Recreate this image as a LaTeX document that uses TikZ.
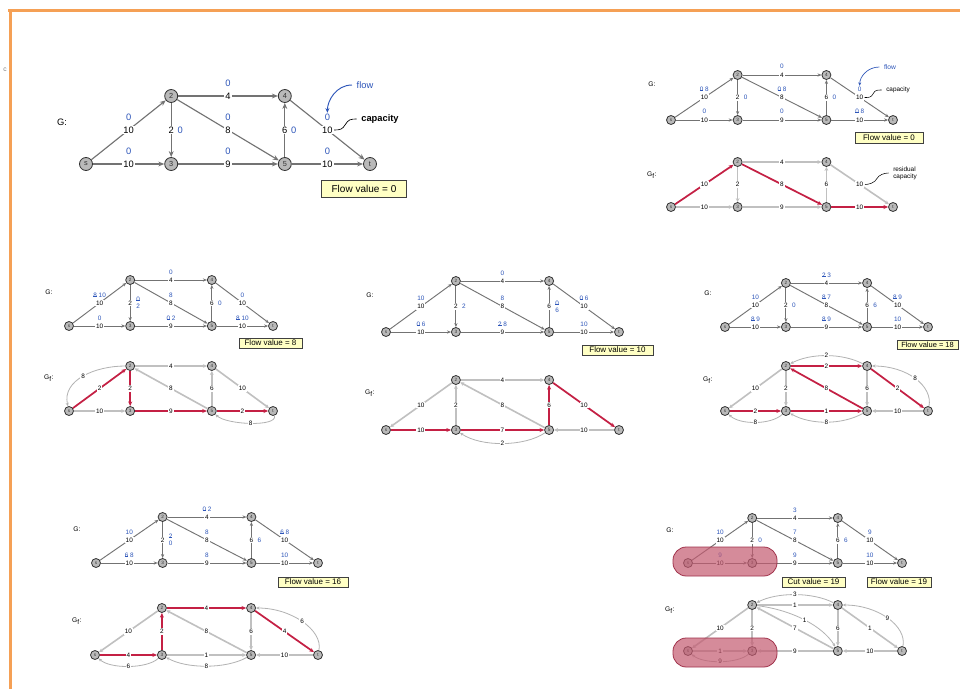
\documentclass[tikz,border=0pt]{standalone}
\usepackage{fontspec}
\setmainfont{Liberation Sans}
\usetikzlibrary{arrows.meta,calc}
\definecolor{flowblue}{RGB}{45,85,185}
\definecolor{edgeg}{RGB}{115,115,115}
\definecolor{resg}{RGB}{192,192,192}
\definecolor{resred}{RGB}{196,32,68}
\definecolor{boxfill}{RGB}{255,255,196}
\definecolor{orangeline}{RGB}{245,160,85}
\definecolor{blobc}{RGB}{196,90,112}
\definecolor{blobd}{RGB}{160,50,75}
\newsavebox\oldbox
\newcommand\oldv[1]{\sbox\oldbox{#1}\rlap{\raisebox{0.33ex}{\rule{\wd\oldbox}{0.1ex}}}\usebox\oldbox}
\newcommand\mkverts[7]{%
  \pgfmathsetmacro\xA{#2}%
  \pgfmathsetmacro\xB{#2+0.3*#4}%
  \pgfmathsetmacro\xC{#2+0.7*#4}%
  \pgfmathsetmacro\xD{#2+#4}%
  \pgfmathsetmacro\yT{#3-#5}%
  \node[vtx,minimum size=#6,font=\fontsize{#7}{#7}\selectfont] (#1-s) at (\xA,#3) {s};
  \node[vtx,minimum size=#6,font=\fontsize{#7}{#7}\selectfont] (#1-2) at (\xB,\yT) {2};
  \node[vtx,minimum size=#6,font=\fontsize{#7}{#7}\selectfont] (#1-3) at (\xB,#3) {3};
  \node[vtx,minimum size=#6,font=\fontsize{#7}{#7}\selectfont] (#1-4) at (\xC,\yT) {4};
  \node[vtx,minimum size=#6,font=\fontsize{#7}{#7}\selectfont] (#1-5) at (\xC,#3) {5};
  \node[vtx,minimum size=#6,font=\fontsize{#7}{#7}\selectfont] (#1-t) at (\xD,#3) {t};
}
\newcommand\gedges[1]{%
  \draw[gE] (#1-s) -- node[clab] (#1-cs2) {10} (#1-2);
  \draw[gE] (#1-s) -- node[clab] (#1-cs3) {10} (#1-3);
  \draw[gE] (#1-2) -- node[clab] (#1-c23) {2} (#1-3);
  \draw[gE] (#1-2) -- node[clab] (#1-c24) {4} (#1-4);
  \draw[gE] (#1-2) -- node[clab] (#1-c25) {8} (#1-5);
  \draw[gE] (#1-3) -- node[clab] (#1-c35) {9} (#1-5);
  \draw[gE] (#1-5) -- node[clab] (#1-c54) {6} (#1-4);
  \draw[gE] (#1-4) -- node[clab] (#1-c4t) {10} (#1-t);
  \draw[gE] (#1-5) -- node[clab] (#1-c5t) {10} (#1-t);
}
\newcommand\fl[4]{\node[flab] at ($(#1-#2)!0.5!(#1-#3)+(0,-\fdy)$) {#4};}
\newcommand\fln[5]{\node[flab] (#5) at ($(#1-#2)!0.5!(#1-#3)+(0,-\fdy)$) {#4};}
\newcommand\fv[4]{\node[flab,align=center] at ($(#1-#2)!0.5!(#1-#3)+(\fdx,0)$) {#4};}
\newcommand\rE[5][rG]{\draw[#1] (#2-#3) -- node[clab]{#5} (#2-#4);}
\newcommand\rC[7][rA]{\draw[#1] (#2-#3) .. controls +#5 and +#6 .. node[clab]{#7} (#2-#4);}
\begin{document}
\begin{tikzpicture}[x=0.75pt,y=-0.75pt,
  vtx/.style={circle,draw=gray!40!black,fill=gray!55,line width=0.6pt,inner sep=0pt,text=black!80},
  lf/.style={font=\fontsize{4.8}{5.3}\selectfont},
  clab/.style={fill=white,inner sep=0.7pt,lf},
  flab/.style={inner sep=0.5pt,lf,text=flowblue},
  gE/.style={draw=edgeg,line width=0.7pt,-{Stealth[length=3pt,width=2.4pt]}},
  rG/.style={draw=resg,line width=1.2pt,-{Stealth[length=3pt,width=2.8pt]}},
  rR/.style={draw=resred,line width=1.3pt,-{Stealth[length=3.5pt,width=3pt]}},
  rA/.style={draw=gray!60,line width=0.6pt,-{Stealth[length=2.6pt,width=2.2pt]}},
  fbox/.style={draw=gray!50!black,fill=boxfill,line width=0.5pt,inner sep=0pt,font=\fontsize{6}{7}\selectfont},
  glab/.style={font=\fontsize{5}{6}\selectfont},
  blob/.style={fill=blobc,fill opacity=0.7,draw=blobd,line width=0.6pt,rounded corners=10pt}
]
\useasboundingbox (0,0) rectangle (960,689);
\fill[white] (0,0) rectangle (960,689);
% frame
\draw[orangeline,line width=1.6pt] (8,10.5) -- (960,10.5);
\draw[orangeline,line width=1.6pt] (10.5,10.5) -- (10.5,689);
\node[font=\fontsize{5}{5}\selectfont,text=gray] (cmark) at (5,70) {c};

% ===== Big panel (flow 0)
\begin{scope}[lf/.style={font=\fontsize{7}{8}\selectfont},
  gE/.style={draw=edgeg,line width=0.85pt,-{Stealth[length=4.5pt,width=3.6pt]}}]
\def\fdy{13}\def\fdx{9}
\node[font=\fontsize{7}{8}\selectfont] (B-G) at (62,122) {G:};
\mkverts{B}{86}{164}{284}{68}{9.75pt}{5.5}
\gedges{B}
\fl{B}{s}{2}{0}\fl{B}{s}{3}{0}\fv{B}{2}{3}{0}\fl{B}{2}{4}{0}\fl{B}{2}{5}{0}
\fl{B}{3}{5}{0}\fv{B}{5}{4}{0}\fln{B}{4}{t}{0}{B-f4t}\fl{B}{5}{t}{0}
\node[font=\fontsize{7}{8}\selectfont,text=flowblue] (B-flowtxt) at (365,85) {flow};
\draw[flowblue,line width=0.7pt,-{Stealth[length=3.5pt,width=3pt]}] (B-flowtxt.west) .. controls +(-16,0) and +(0,-12) .. (B-f4t.north);
\node[font=\bfseries\fontsize{7}{8}\selectfont] (B-captxt) at (380,119) {capacity};
\draw[black,line width=0.5pt] (B-c4t.east) .. controls +(6,0) and +(-3,5) .. ($(B-c4t.east)!0.5!(B-captxt.west)$) .. controls +(3,-5) and +(-6,0) .. (B-captxt.west);
\node[fbox,minimum width=64pt,minimum height=12.75pt,font=\fontsize{7.5}{8}\selectfont] (B-box) at (364,188.5) {Flow value = 0};
\end{scope}

% ===== Top-right (flow 0)
\def\fdy{8.5}\def\fdx{8}
\node[glab] (tg-G) at (652,84) {G:};
\mkverts{tg}{671}{120}{222}{45}{6.75pt}{3.5}
\gedges{tg}
\fl{tg}{s}{2}{\oldv{0} 8}\fl{tg}{s}{3}{0}\fv{tg}{2}{3}{0}\fl{tg}{2}{4}{0}\fl{tg}{2}{5}{\oldv{0} 8}
\fl{tg}{3}{5}{0}\fv{tg}{5}{4}{0}\fln{tg}{4}{t}{0}{tg-f4t}\fl{tg}{5}{t}{\oldv{0} 8}
\node[font=\fontsize{5}{6}\selectfont,text=flowblue] (tg-flowtxt) at (890,67) {flow};
\draw[flowblue,line width=0.5pt,-{Stealth[length=2.6pt,width=2.2pt]}] (tg-flowtxt.west) .. controls +(-12,0) and +(0,-9) .. (tg-f4t.north);
\node[font=\fontsize{4.8}{5}\selectfont] (tg-captxt) at (898,90) {capacity};
\draw[black,line width=0.4pt] (tg-c4t.east) .. controls +(4,0) and +(-2,4) .. ($(tg-c4t.east)!0.5!(tg-captxt.west)$) .. controls +(2,-4) and +(-4,0) .. (tg-captxt.west);
\node[fbox,minimum width=51pt,minimum height=8.25pt] (tg-box) at (889,137.5) {Flow value = 0};

\node[glab] (tr-G) at (652,175) {G\textsubscript{f}:};
\mkverts{tr}{671}{207}{222}{45}{6.75pt}{3.5}
\rE[rR]{tr}{s}{2}{10}
\rE{tr}{s}{3}{10}
\rE{tr}{2}{3}{2}
\rE{tr}{2}{4}{4}
\rE[rR]{tr}{2}{5}{8}
\rE{tr}{3}{5}{9}
\rE{tr}{5}{4}{6}
\draw[rG] (tr-4) -- node[clab] (tr-c4t) {10} (tr-t);
\rE[rR]{tr}{5}{t}{10}
\node[font=\fontsize{4.8}{5.2}\selectfont,align=left] (tr-captxt) at (905,173) {residual\\capacity};
\draw[black,line width=0.4pt] (tr-c4t.east) .. controls +(4,0) and +(-2,4) .. ($(tr-c4t.east)!0.5!(tr-captxt.west)$) .. controls +(2,-4) and +(-4,0) .. (tr-captxt.west);

% ===== Middle-left (flow 8)
\def\fdy{8}\def\fdx{8}
\node[glab] (mg-G) at (49,292) {G:};
\mkverts{mg}{69}{326}{204}{46}{6.75pt}{3.5}
\gedges{mg}
\fl{mg}{s}{2}{\oldv{8} 10}\fl{mg}{s}{3}{0}\fv{mg}{2}{3}{\oldv{0}\\2}\fl{mg}{2}{4}{0}\fl{mg}{2}{5}{8}
\fl{mg}{3}{5}{\oldv{0} 2}\fv{mg}{5}{4}{0}\fl{mg}{4}{t}{0}\fl{mg}{5}{t}{\oldv{8} 10}
\node[fbox,minimum width=47pt,minimum height=7.5pt] (mg-box) at (270.5,343) {Flow value = 8};

\node[glab] (ml-G) at (49,378) {G\textsubscript{f}:};
\mkverts{ml}{69}{411}{204}{45}{6.75pt}{3.5}
\rC{ml}{2}{s}{(-35,0)}{(-7,-31)}{8}
\rE[rR]{ml}{s}{2}{2}
\rE{ml}{s}{3}{10}
\rE[rR]{ml}{2}{3}{2}
\rE{ml}{2}{4}{4}
\rE{ml}{5}{2}{8}
\rE[rR]{ml}{3}{5}{9}
\rE{ml}{5}{4}{6}
\rE{ml}{4}{t}{10}
\rE[rR]{ml}{5}{t}{2}
\rC{ml}{t}{5}{(5,16)}{(15,14)}{8}

% ===== Middle-center (flow 10)
\node[glab] (cg-G) at (370,295) {G:};
\mkverts{cg}{386}{332}{233}{51}{6.75pt}{3.5}
\gedges{cg}
\fl{cg}{s}{2}{10}\fl{cg}{s}{3}{\oldv{0} 6}\fv{cg}{2}{3}{2}\fl{cg}{2}{4}{0}\fl{cg}{2}{5}{8}
\fl{cg}{3}{5}{\oldv{2} 8}\fv{cg}{5}{4}{\oldv{0}\\6}\fl{cg}{4}{t}{\oldv{0} 6}\fl{cg}{5}{t}{10}
\node[fbox,minimum width=53pt,minimum height=7.5pt] (cg-box) at (617.5,350) {Flow value = 10};

\node[glab] (cr-G) at (370,393) {G\textsubscript{f}:};
\mkverts{cr}{386}{430}{233}{50}{6.75pt}{3.5}
\rE{cr}{2}{s}{10}
\rE[rR]{cr}{s}{3}{10}
\rE{cr}{3}{2}{2}
\rE{cr}{2}{4}{4}
\rE{cr}{5}{2}{8}
\rE[rR]{cr}{3}{5}{7}
\rC{cr}{5}{3}{(-25,17)}{(25,17)}{2}
\rE[rR]{cr}{5}{4}{6}
\rE[rR]{cr}{4}{t}{10}
\rE{cr}{t}{5}{10}

% ===== Middle-right (flow 18)
\node[glab] (rg-G) at (708,293) {G:};
\mkverts{rg}{725}{327}{203}{44}{6.75pt}{3.5}
\gedges{rg}
\fl{rg}{s}{2}{10}\fl{rg}{s}{3}{\oldv{8} 9}\fv{rg}{2}{3}{0}\fl{rg}{2}{4}{\oldv{2} 3}\fl{rg}{2}{5}{\oldv{8} 7}
\fl{rg}{3}{5}{\oldv{8} 9}\fv{rg}{5}{4}{6}\fl{rg}{4}{t}{\oldv{8} 9}\fl{rg}{5}{t}{10}
\node[fbox,minimum width=46pt,minimum height=6.8pt,font=\fontsize{5.6}{6}\selectfont] (rg-box) at (927.5,344.5) {Flow value = 18};

\node[glab] (rr-G) at (708,380) {G\textsubscript{f}:};
\mkverts{rr}{725}{411}{203}{45}{6.75pt}{3.5}
\rE{rr}{2}{s}{10}
\rE[rR]{rr}{s}{3}{2}
\rC{rr}{3}{s}{(-15,14)}{(15,14)}{8}
\rE{rr}{2}{3}{2}
\rE[rR]{rr}{2}{4}{2}
\rC{rr}{4}{2}{(-25,-13)}{(25,-13)}{2}
\rE[rR]{rr}{5}{2}{8}
\rE[rR]{rr}{3}{5}{1}
\rC{rr}{5}{3}{(-25,14)}{(25,14)}{8}
\rE{rr}{4}{5}{6}
\rE[rR]{rr}{4}{t}{2}
\rC{rr}{t}{4}{(5,-25)}{(40,0)}{8}
\rE{rr}{t}{5}{10}

% ===== Bottom-left (flow 16)
\node[glab] (lg-G) at (77,529) {G:};
\mkverts{lg}{96}{563}{222}{46}{6.75pt}{3.5}
\gedges{lg}
\fl{lg}{s}{2}{10}\fl{lg}{s}{3}{\oldv{6} 8}\fv{lg}{2}{3}{\oldv{2}\\0}\fl{lg}{2}{4}{\oldv{0} 2}\fl{lg}{2}{5}{8}
\fl{lg}{3}{5}{8}\fv{lg}{5}{4}{6}\fl{lg}{4}{t}{\oldv{6} 8}\fl{lg}{5}{t}{10}
\node[fbox,minimum width=52.5pt,minimum height=7.5pt] (lg-box) at (313,582) {Flow value = 16};

\node[glab] (lr-G) at (77,621) {G\textsubscript{f}:};
\mkverts{lr}{95}{655}{223}{47}{6.75pt}{3.5}
\rE{lr}{2}{s}{10}
\rE[rR]{lr}{s}{3}{4}
\rC{lr}{3}{s}{(-15,14)}{(15,14)}{6}
\rE[rR]{lr}{3}{2}{2}
\rE[rR]{lr}{2}{4}{4}
\rE{lr}{5}{2}{8}
\rE{lr}{3}{5}{1}
\rC{lr}{5}{3}{(-25,14)}{(25,14)}{8}
\rE{lr}{4}{5}{6}
\rE[rR]{lr}{4}{t}{4}
\rC{lr}{t}{4}{(5,-25)}{(40,0)}{6}
\rE{lr}{t}{5}{10}

% ===== Bottom-right (flow 19, min cut)
\node[glab] (kg-G) at (670,530) {G:};
\mkverts{kg}{688}{563}{214}{45}{6.75pt}{3.5}
\gedges{kg}
\fl{kg}{s}{2}{10}\fl{kg}{s}{3}{9}\fv{kg}{2}{3}{0}\fl{kg}{2}{4}{3}\fl{kg}{2}{5}{7}
\fl{kg}{3}{5}{9}\fv{kg}{5}{4}{6}\fl{kg}{4}{t}{9}\fl{kg}{5}{t}{10}
\filldraw[blob] (673,547) rectangle (777,576);
\node[fbox,minimum width=47pt,minimum height=7.5pt] (kg-cut) at (813.5,582) {Cut value = 19};
\node[fbox,minimum width=48pt,minimum height=7.5pt] (kg-box) at (899,582) {Flow value = 19};

\node[glab] (kr-G) at (670,610) {G\textsubscript{f}:};
\mkverts{kr}{688}{651}{214}{46}{6.75pt}{3.5}
\rE{kr}{2}{s}{10}
\rE{kr}{s}{3}{1}
\rC{kr}{3}{s}{(-15,13)}{(15,13)}{9}
\rE{kr}{2}{3}{2}
\rE{kr}{2}{4}{1}
\rC{kr}{4}{2}{(-25,-13)}{(25,-13)}{3}
\rE{kr}{5}{2}{7}
\rC{kr}{2}{5}{(40,5)}{(-15,-25)}{1}
\rE{kr}{5}{3}{9}
\rE{kr}{4}{5}{6}
\rE{kr}{4}{t}{1}
\rC{kr}{t}{4}{(5,-25)}{(40,0)}{9}
\rE{kr}{t}{5}{10}
\filldraw[blob] (673,638) rectangle (777,667);
\end{tikzpicture}
\end{document}
